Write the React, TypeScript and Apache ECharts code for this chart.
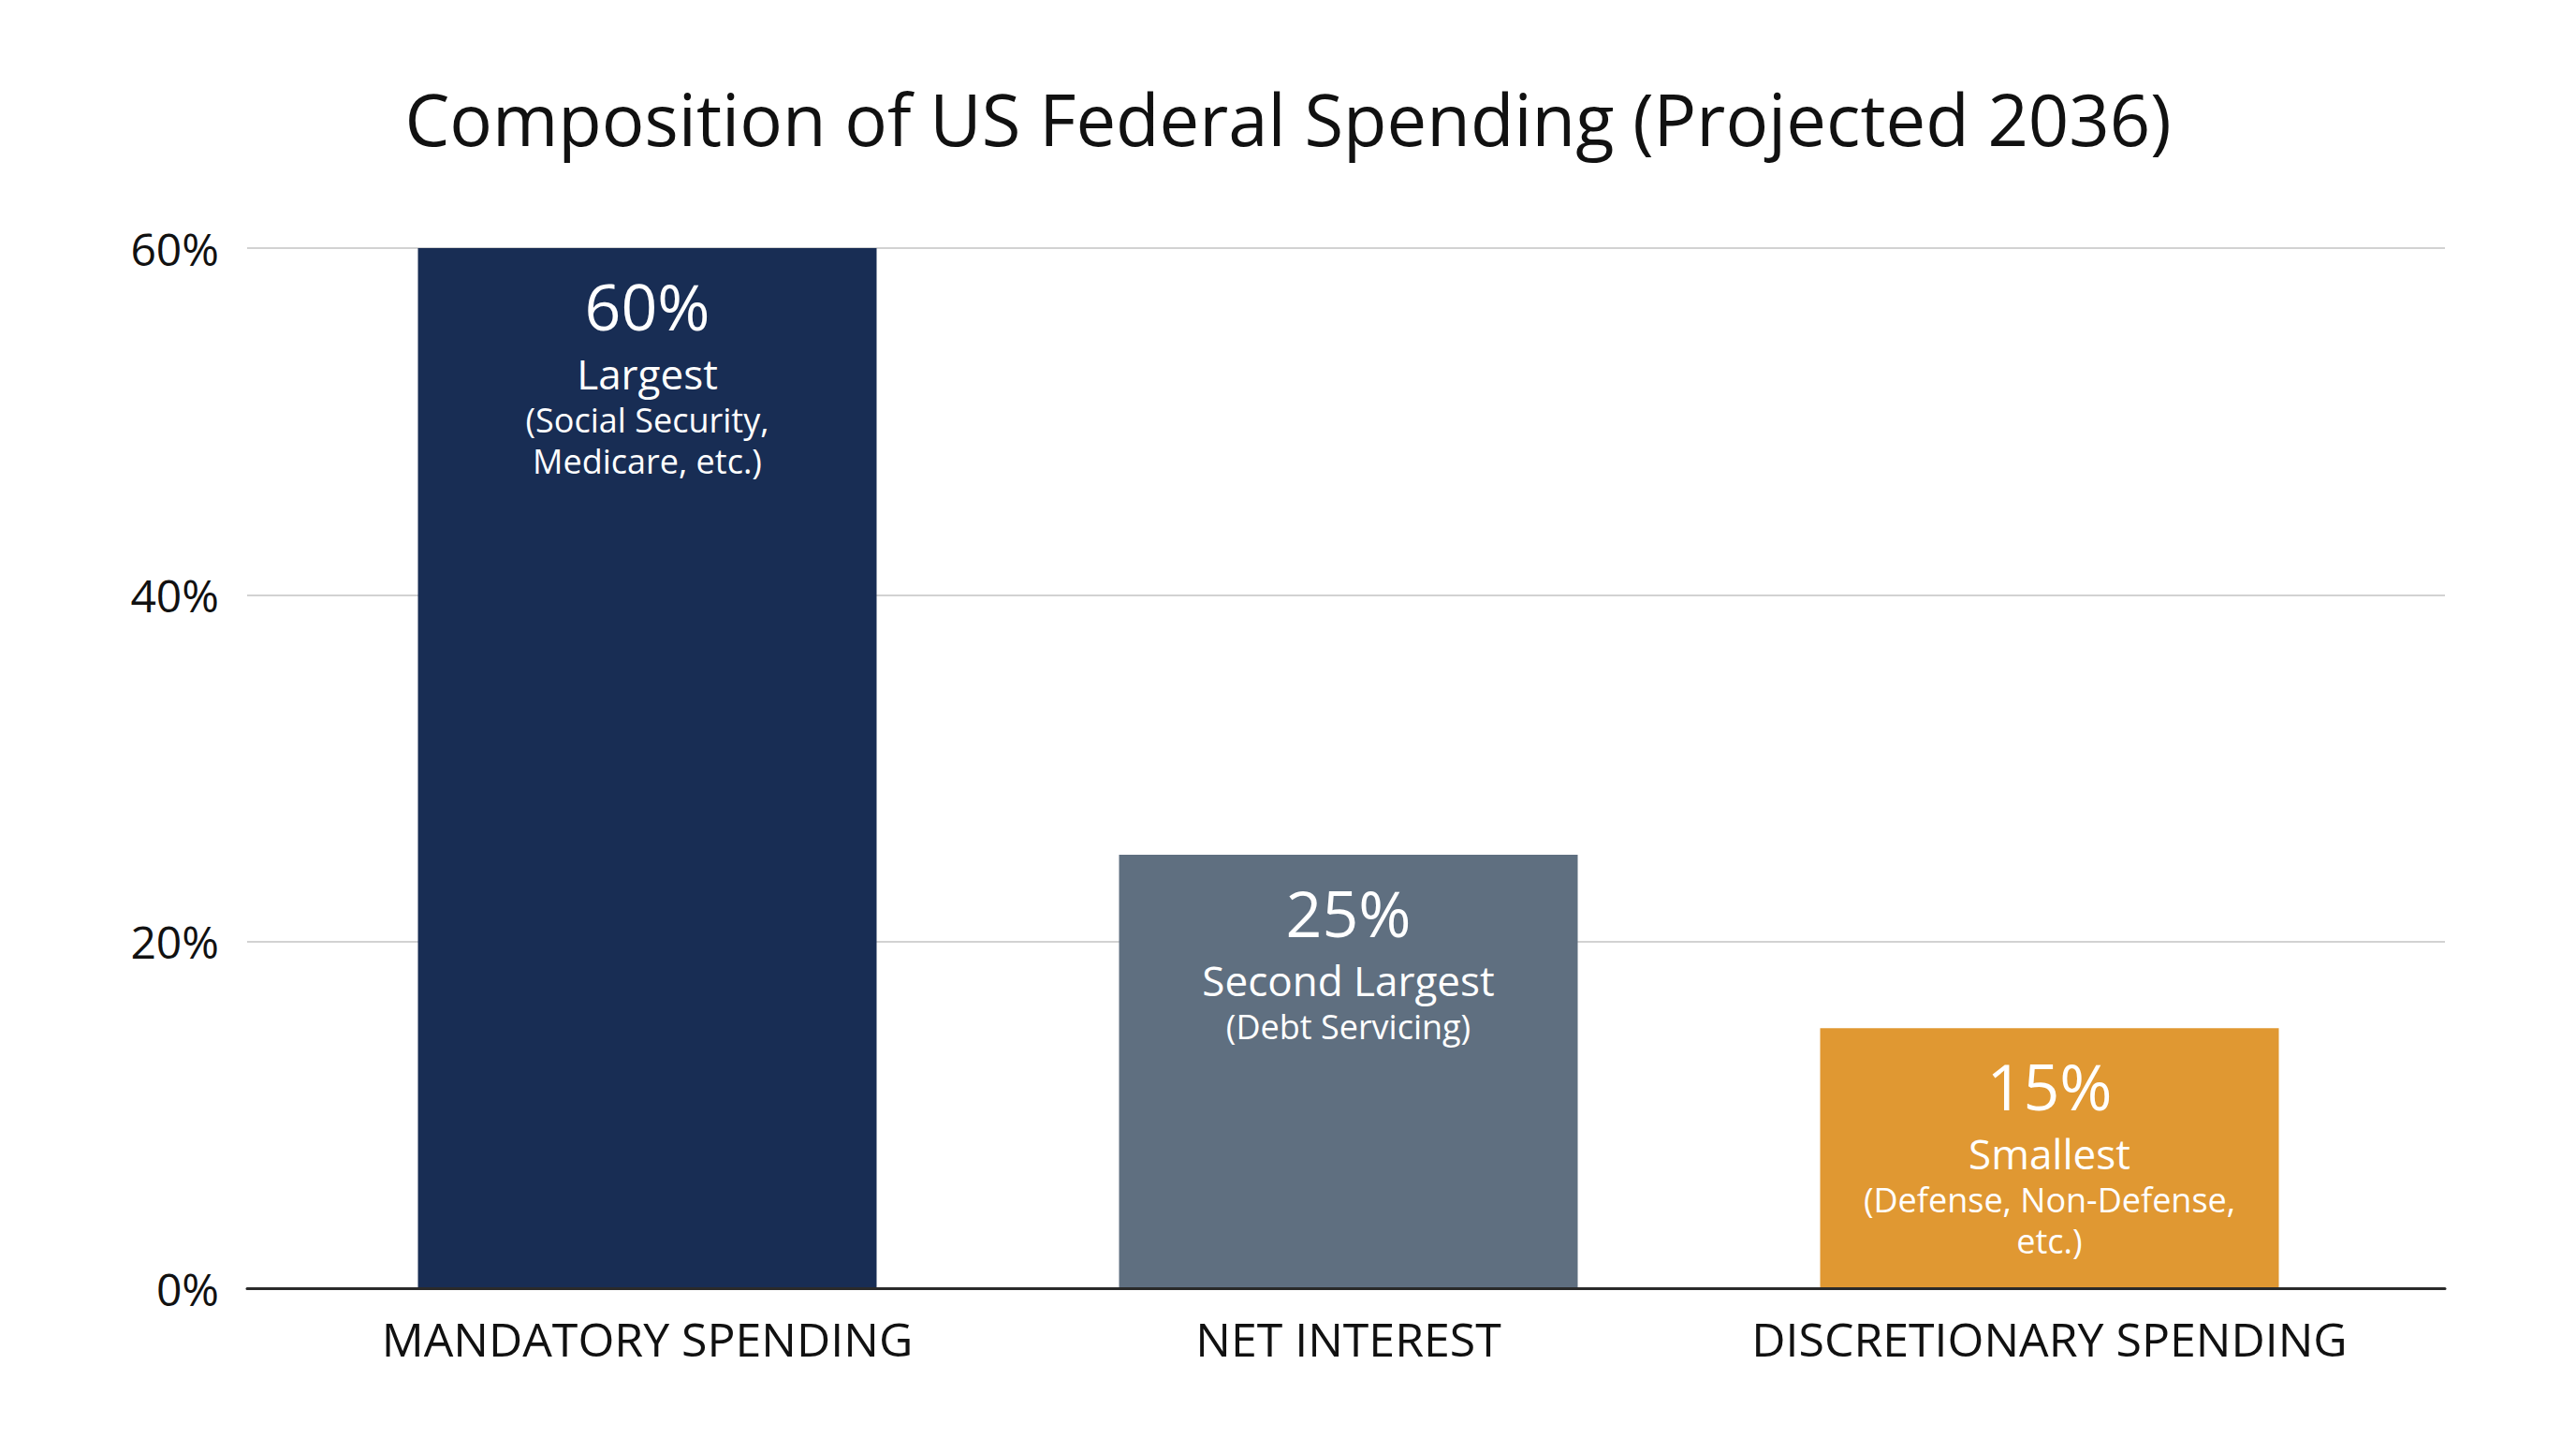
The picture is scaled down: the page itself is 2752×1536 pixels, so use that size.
import React, { useEffect, useRef } from "react";
import * as echarts from "echarts";

const titleText = "Composition of US Federal Spending (Projected 2036)";
const categories = ["MANDATORY SPENDING", "NET INTEREST", "DISCRETIONARY SPENDING"];
const values = [60, 25, 15];
const ranks = ["Largest", "Second Largest", "Smallest"];
const details = [
  ["(Social Security,", "Medicare, etc.)"],
  ["(Debt Servicing)"],
  ["(Defense, Non-Defense,", "etc.)"],
];
const barColors = ["#182d54", "#5f6f80", "#e09832"];
const yMin = 0;
const yMax = 60;
const yInterval = 20;

const FONT = "'Open Sans', 'Noto Sans', sans-serif";

export default function App() {
  const ref = useRef<HTMLDivElement>(null);

  useEffect(() => {
    if (!ref.current) return;
    const chart = echarts.init(ref.current, undefined, { renderer: "svg" });

    const option: any = {
      animation: false,
      backgroundColor: "#ffffff",
      textStyle: { fontFamily: FONT },
      title: {
        text: titleText,
        left: "center",
        top: 83,
        textStyle: {
          fontFamily: FONT,
          fontSize: 76,
          fontWeight: "normal",
          color: "#111111",
        },
      },
      grid: [
        { left: 264, right: 140, top: 265, bottom: 160, containLabel: false },
        { left: 317, right: 188, top: 265, bottom: 160, containLabel: false },
      ],
      xAxis: [
        {
          gridIndex: 0,
          type: "value",
          min: 0,
          max: 1,
          z: 5,
          axisLine: { show: true, lineStyle: { color: "#2a2a2a", width: 3 } },
          axisTick: { show: false },
          axisLabel: { show: false },
          splitLine: { show: false },
        },
        {
          gridIndex: 1,
          type: "category",
          data: categories,
          axisLine: { show: false },
          axisTick: { show: false },
          axisLabel: {
            interval: 0,
            fontFamily: FONT,
            fontSize: 50,
            color: "#111111",
            margin: 29,
          },
        },
      ],
      yAxis: [
        {
          gridIndex: 0,
          type: "value",
          min: yMin,
          max: yMax,
          interval: yInterval,
          axisLine: { show: false },
          axisTick: { show: false },
          axisLabel: {
            formatter: "{value}%",
            fontFamily: FONT,
            fontSize: 48,
            color: "#111111",
            margin: 30,
          },
          splitLine: { show: true, lineStyle: { color: "#d2d2d2", width: 2 } },
        },
        {
          gridIndex: 1,
          type: "value",
          min: yMin,
          max: yMax,
          interval: yInterval,
          show: false,
          splitLine: { show: false },
        },
      ],
      series: [
        {
          type: "bar",
          xAxisIndex: 1,
          yAxisIndex: 1,
          barWidth: 490,
          data: values.map((v, i) => ({
            value: v,
            itemStyle: { color: barColors[i] },
          })),
          label: {
            show: true,
            position: "insideTop",
            distance: 15,
            align: "center",
            color: "#ffffff",
            fontFamily: FONT,
            formatter: (p: any) => {
              const i = p.dataIndex;
              const lines = [
                `{num|${values[i]}%}`,
                `{rank|${ranks[i]}}`,
                ...details[i].map((d) => `{sub|${d}}`),
              ];
              return lines.join("\n");
            },
            rich: {
              num: { fontFamily: FONT, fontSize: 68, lineHeight: 92, color: "#ffffff", align: "center" },
              rank: { fontFamily: FONT, fontSize: 44, lineHeight: 54, color: "#ffffff", align: "center" },
              sub: { fontFamily: FONT, fontSize: 36, lineHeight: 44, color: "#ffffff", align: "center" },
            },
          },
        },
      ],
    };

    chart.setOption(option);
    return () => chart.dispose();
  }, []);

  return (
    <div
      ref={ref}
      style={{ position: "absolute", left: 0, top: 0, width: 2752, height: 1536, background: "#ffffff" }}
    />
  );
}
